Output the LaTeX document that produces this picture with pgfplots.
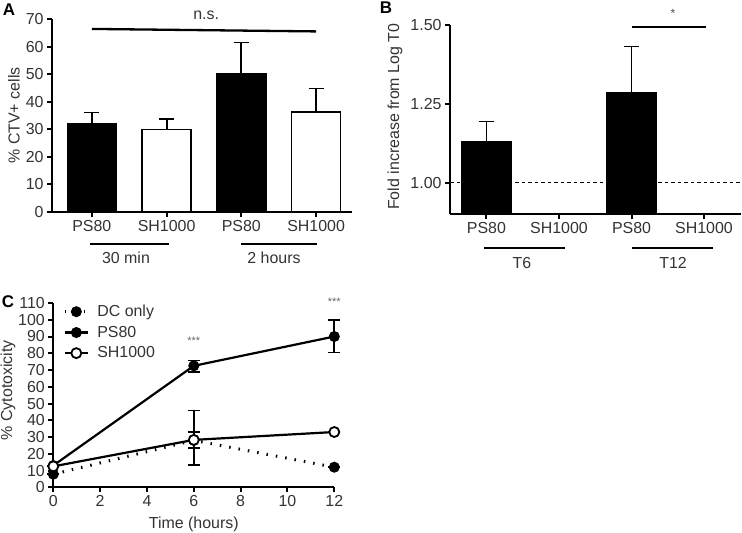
\documentclass[border=0pt]{standalone}
\usepackage{fontspec}
\setmainfont{Liberation Sans}
\usepackage{pgfplots}
\pgfplotsset{compat=1.18}
\newcommand{\fs}{\fontsize{16}{18.5}\selectfont}
\begin{document}
\begin{tikzpicture}[font=\fs]
\useasboundingbox (0,0) rectangle (742bp,533bp);
\pgfplotsset{
  common/.style={
    scale only axis,
    axis x line=bottom, axis y line=left,
    axis line style={-, line width=2bp, black},
    tick style={line width=2bp, black},
    tick align=outside,
    major tick length=5bp,
    tick label style={font=\fs, text=black!80},
    /pgf/number format/assume math mode=true,
    label style={font=\fs, text=black!80},
    error bars/error bar style={line width=1.8bp, solid},
  },
}
% ---------------- Panel A ----------------
\begin{axis}[common, at={(52bp,321bp)}, anchor=south west, width=300bp, height=193bp,
  clip=false,
  xmin=-0.533, xmax=3.48, ymin=0, ymax=70, ytick={0,10,...,70},
  xtick={0,1,2,3}, xticklabels={PS80,SH1000,PS80,SH1000},
  ylabel={\% CTV+ cells}, ylabel style={at={(axis description cs:-0.127,0.5)}, anchor=center},
  ybar, bar width=49bp,
]
\addplot[fill=black, draw=black, line width=1.5bp, bar shift=0pt,
  error bars/.cd, y dir=plus, y explicit,
  error mark options={rotate=90, mark size=7.5bp, line width=1.8bp}]
  coordinates {(0,32) +- (0,4.1) (2,50) +- (0,11.5)};
\addplot[fill=white, draw=black, line width=1.5bp, bar shift=0pt,
  error bars/.cd, y dir=plus, y explicit,
  error mark options={rotate=90, mark size=7.5bp, line width=1.8bp}]
  coordinates {(1,30) +- (0,3.8) (3,36.2) +- (0,8.6)};
\draw[line width=2.3bp] (axis cs:0,66.4) -- (axis cs:3,65.5);
\node[text=black!80] at (axis cs:1.53,71.4) {n.s.};
\end{axis}
% ---------------- Panel B ----------------
\begin{axis}[common, at={(450bp,318.8bp)}, anchor=south west, width=291bp, height=189.2bp,
  clip=true, clip mode=individual,
  xmin=-0.503, xmax=3.51, ymin=0.9, ymax=1.5, ytick={1,1.25,1.5},
  yticklabel style={/pgf/number format/.cd, fixed, fixed zerofill, precision=2},
  xtick={0,1,2,3}, xticklabels={PS80,SH1000,PS80,SH1000},
  ylabel={Fold increase from Log T0}, ylabel style={at={(axis description cs:-0.189,0.515)}, anchor=center},
  ybar, bar width=50bp,
]
\addplot[sharp plot, black, line width=1.3bp, dash pattern=on 3.5bp off 3bp, forget plot]
  coordinates {(-0.503,1) (3.51,1)};
\addplot[fill=black, draw=black, line width=1.5bp, bar shift=0pt,
  error bars/.cd, y dir=plus, y explicit,
  error mark options={rotate=90, mark size=7.5bp, line width=1.8bp}]
  coordinates {(0,1.130) +- (0,0.064) (2,1.284) +- (0,0.148)};
\draw[line width=2.3bp] (axis cs:2,1.4946) -- (axis cs:3.03,1.4946);
\node[font=\fontsize{12}{14}\selectfont, text=black!70] at (axis cs:2.57,1.538) {*};
\end{axis}
% ---------------- Panel C ----------------
\begin{axis}[common, at={(53.3bp,45.7bp)}, anchor=south west, width=281bp, height=184.3bp,
  clip=false,
  xmin=0, xmax=12, ymin=0, ymax=110, xtick={0,2,...,12}, ytick={0,10,...,110},
  xlabel={Time (hours)}, xlabel style={at={(axis description cs:0.5,-0.2)}, anchor=center},
  ylabel={\% Cytotoxicity}, ylabel style={at={(axis description cs:-0.161,0.527)}, anchor=center},
  legend style={at={(axis description cs:0.035,1.0)}, anchor=north west, draw=none, fill=none,
    font=\fs, text=black!80, row sep=4bp, column sep=6bp, inner sep=0pt},
  legend cell align=left,
  legend image code/.code={\draw[mark repeat=2,mark phase=2,#1] plot coordinates {(0bp,0bp) (11.5bp,0bp) (23bp,0bp)};},
]
\addplot[black, line width=3bp, dash pattern=on 1.5bp off 8bp,
  mark=*, mark size=5bp, mark options={solid, fill=black, line width=1bp},
  error bars/.cd, y dir=both, y explicit,
  error mark options={rotate=90, mark size=6bp, line width=1.8bp, solid}]
  coordinates {(0,7.8) +- (0,0) (6,28) += (0,4.9) -= (0,4.7) (12,12) +- (0,0)};
\addlegendentry{DC only}
\addplot[black, line width=2.2bp,
  mark=*, mark size=5bp, mark options={solid, fill=black, line width=1bp},
  error bars/.cd, y dir=both, y explicit,
  error mark options={rotate=90, mark size=6bp, line width=1.8bp, solid}]
  coordinates {(0,13) +- (0,0) (6,72.5) += (0,3.2) -= (0,3.5) (12,90) += (0,10) -= (0,9.5)};
\addlegendentry{PS80}
\addplot[black, line width=2.2bp,
  mark=*, mark size=5bp, mark options={solid, fill=white, line width=1.8bp},
  error bars/.cd, y dir=both, y explicit,
  error mark options={rotate=90, mark size=6bp, line width=1.8bp, solid}]
  coordinates {(0,12.5) +- (0,0) (6,28.3) += (0,17.5) -= (0,15) (12,33) +- (0,0)};
\addlegendentry{SH1000}
\node[font=\fontsize{11}{13}\selectfont, text=black!60] at (axis cs:6,87.6) {***};
\node[font=\fontsize{11}{13}\selectfont, text=black!60] at (axis cs:12,111) {***};
\end{axis}
% ---------------- group labels and panel letters ----------------
\draw[line width=2.3bp] (90bp,289bp) -- (169bp,289bp);
\node[text=black!80] at (126bp,275bp) {30 min};
\draw[line width=2.3bp] (241bp,289bp) -- (317bp,289bp);
\node[text=black!80] at (274bp,275bp) {2 hours};
\draw[line width=2.3bp] (484bp,285bp) -- (565bp,285bp);
\node[text=black!80] at (522bp,270bp) {T6};
\draw[line width=2.3bp] (632bp,285bp) -- (713bp,285bp);
\node[text=black!80] at (673bp,270bp) {T12};
\node[font=\fontsize{17}{20}\selectfont\bfseries] at (9bp,523bp) {A};
\node[font=\fontsize{17}{20}\selectfont\bfseries] at (386bp,525bp) {B};
\node[font=\fontsize{17}{20}\selectfont\bfseries] at (8bp,231bp) {C};
\end{tikzpicture}
\end{document}
